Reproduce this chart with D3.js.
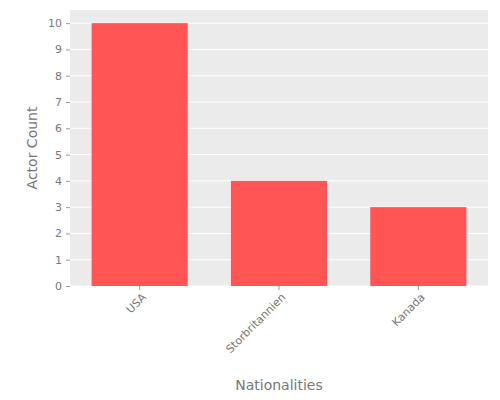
<!DOCTYPE html>
<html><head><meta charset="utf-8">
<script src="https://cdn.jsdelivr.net/npm/d3@7"></script>
<style>body{margin:0;background:#fff}text{font-family:"DejaVu Sans",sans-serif}</style>
</head><body><svg id="c" width="500" height="400"></svg>
<script>
const categories=["USA","Storbritannien","Kanada"];
const values=[10,4,3];
const yTicks=[0,1,2,3,4,5,6,7,8,9,10];
const svg=d3.select("#c");
const L=70,R=488,T=10,B=286;
const x=d3.scaleBand().domain(categories).range([L,R]).paddingInner(0.31).paddingOuter(0.155);
const y=d3.scaleLinear().domain([0,10.5]).range([B,T]);
svg.append("rect").attr("x",L).attr("y",T).attr("width",R-L).attr("height",B-T).attr("fill","#EBEBEB");
svg.append("g").selectAll("line").data(yTicks).join("line").attr("x1",L).attr("x2",R)
 .attr("y1",d=>y(d)).attr("y2",d=>y(d)).attr("stroke","#fff").attr("stroke-width",1);
svg.append("g").selectAll("rect").data(categories).join("rect")
 .attr("x",d=>x(d)).attr("width",x.bandwidth()).attr("y",(d,i)=>y(values[i])).attr("height",(d,i)=>B-y(values[i])).attr("fill","#FF5555");
const ya=svg.append("g").attr("transform",`translate(${L},0)`).call(d3.axisLeft(y).tickValues(yTicks).tickSize(4).tickPadding(4));
const xa=svg.append("g").attr("transform",`translate(0,${B})`).call(d3.axisBottom(x).tickSize(4).tickPadding(4));
[ya,xa].forEach(a=>{a.select(".domain").remove();a.selectAll("line").attr("stroke","#999");a.selectAll("text").attr("fill","#777").attr("font-size",11);});
xa.selectAll("text").attr("text-anchor","end").attr("dx","-0.3em").attr("dy","0.5em").attr("transform","rotate(-45)");
svg.append("text").attr("x",(L+R)/2).attr("y",390).attr("text-anchor","middle").attr("fill","#777").attr("font-size",14).text("Nationalities");
svg.append("text").attr("transform",`translate(37,${(T+B)/2}) rotate(-90)`).attr("text-anchor","middle").attr("fill","#777").attr("font-size",14).text("Actor Count");
</script></body></html>
